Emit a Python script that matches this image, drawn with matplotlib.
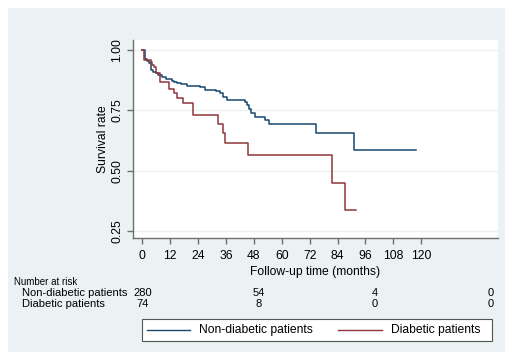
import matplotlib.pyplot as plt
import matplotlib.transforms as mtransforms
from matplotlib.patches import Rectangle
from matplotlib.lines import Line2D

# Kaplan-Meier steps
nd_time = [0, 1.15, 1.9, 2.7, 3.6, 4.7, 5.7, 6.9, 8.3, 10.2, 12.6, 13.8, 15.1, 16.5,
           19.1, 24.8, 27.0, 31.7, 33.4, 34.6, 36.6, 44.2, 45.2, 46.1, 46.6, 48.5,
           52.8, 54.5, 74.8, 90.9, 117.8]
nd_surv = [1.0, 0.961, 0.954, 0.945, 0.917, 0.910, 0.903, 0.896, 0.890, 0.878, 0.873,
           0.869, 0.862, 0.858, 0.852, 0.848, 0.834, 0.830, 0.820, 0.807, 0.793, 0.786,
           0.772, 0.758, 0.738, 0.724, 0.710, 0.692, 0.657, 0.586, 0.586]

d_time = [0, 0.7, 3.6, 4.3, 5.0, 5.9, 7.6, 11.5, 13.6, 14.8, 17.7, 21.7, 32.7, 34.9,
          35.6, 45.5, 81.5, 87.0, 91.9]
d_surv = [1.0, 0.959, 0.949, 0.938, 0.928, 0.903, 0.869, 0.837, 0.820, 0.800, 0.779,
          0.731, 0.692, 0.657, 0.616, 0.565, 0.452, 0.337, 0.337]

risk_times = [0, 50, 100, 150]
risk_nd = [280, 54, 4, 0]
risk_d = [74, 8, 0, 0]

x_ticks = list(range(0, 121, 12))
y_ticks = [0.25, 0.50, 0.75, 1.00]

navy = '#1a476f'
maroon = '#90353b'
bg = '#eaf2f3'
axcol = '#6e6e6e'

plt.rcParams['font.family'] = ['Liberation Sans', 'DejaVu Sans']

W, H = 513, 363
def fx(px):
    return px / W
def fy(py):
    return 1 - py / H

fig = plt.figure(figsize=(W / 100, H / 100), dpi=100, facecolor='white')
fig.patches.append(Rectangle((fx(8), fy(352)), 497 / W, 344 / H,
                             transform=fig.transFigure, facecolor=bg,
                             edgecolor='none', zorder=-10))

ax = fig.add_axes([fx(133), fy(238), 365 / W, 198 / H])
ax.set_facecolor('white')
ax.set_xlim(-4.0, 153.0)
ax.set_ylim(0.223, 1.041)

for y in y_ticks:
    ax.axhline(y, color=bg, lw=1.0, zorder=1)

ax.step(nd_time, nd_surv, where='post', color=navy, lw=1.1, zorder=3)
ax.step(d_time, d_surv, where='post', color=maroon, lw=1.1, zorder=3)

for s in ['top', 'right']:
    ax.spines[s].set_visible(False)
for s in ['left', 'bottom']:
    ax.spines[s].set_color(axcol)
    ax.spines[s].set_linewidth(1.0)

ax.set_xticks(x_ticks)
ax.set_yticks(y_ticks)
ax.set_yticklabels(['%.2f' % v for v in y_ticks], rotation=90, va='center')
ax.tick_params(axis='both', colors=axcol, length=4, width=1.0, labelsize=8.7,
               labelcolor='black')
ax.tick_params(axis='x', pad=4.5)
ax.tick_params(axis='y', pad=3)
ax.set_xlabel('Follow-up time (months)', fontsize=8.7, labelpad=3)
ax.set_ylabel('Survival rate', fontsize=8.7, labelpad=2)

# number at risk table
tr = mtransforms.blended_transform_factory(ax.transData, fig.transFigure)
fig.text(fx(14), fy(282), 'Number at risk', fontsize=7, va='center')
fig.text(fx(22), fy(293), 'Non-diabetic patients', fontsize=8, va='center')
fig.text(fx(22), fy(304), 'Diabetic patients', fontsize=8, va='center')
for t, a, b in zip(risk_times, risk_nd, risk_d):
    ax.text(t, fy(293), str(a), transform=tr, ha='center', va='center',
            fontsize=8, clip_on=False)
    ax.text(t, fy(304), str(b), transform=tr, ha='center', va='center',
            fontsize=8, clip_on=False)

# legend box
fig.patches.append(Rectangle((fx(142), fy(341)), 350 / W, 22 / H,
                             transform=fig.transFigure, facecolor='white',
                             edgecolor='#555555', lw=0.8))
ly = fy(330)
fig.lines.append(Line2D([fx(147), fx(190)], [ly, ly], color=navy, lw=1.0,
                        transform=fig.transFigure))
fig.text(fx(199), ly, 'Non-diabetic patients', fontsize=8.7, va='center')
fig.lines.append(Line2D([fx(338), fx(382)], [ly, ly], color=maroon, lw=1.0,
                        transform=fig.transFigure))
fig.text(fx(391), ly, 'Diabetic patients', fontsize=8.7, va='center')

fig.savefig('out.png', dpi=100, facecolor='white')
